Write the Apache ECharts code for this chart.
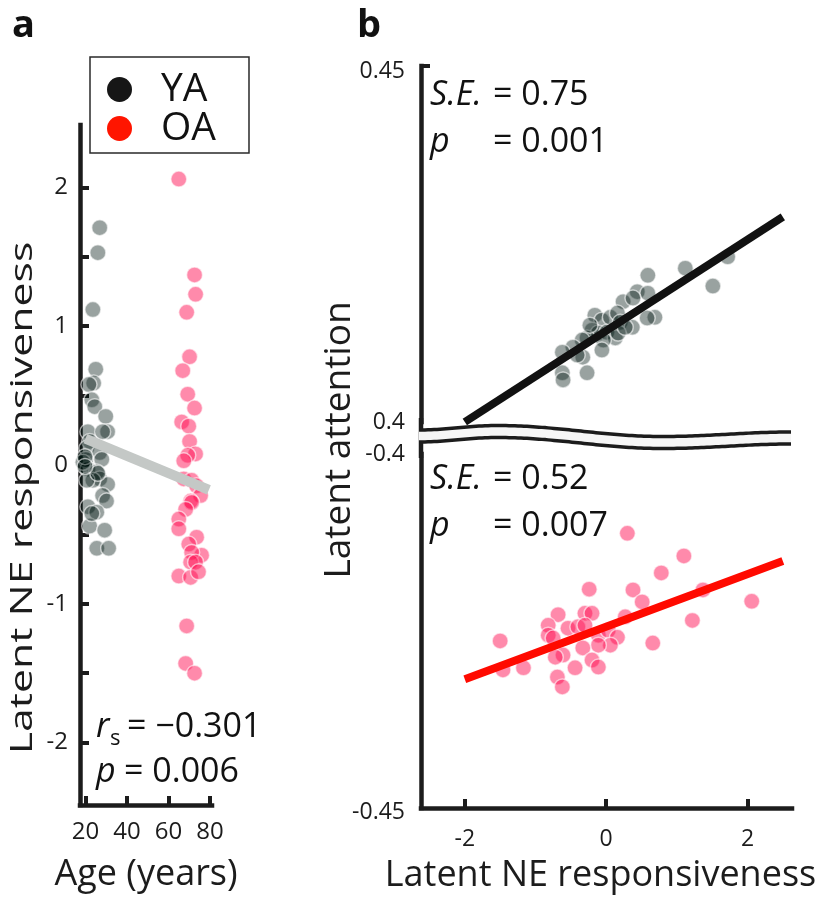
<!DOCTYPE html>
<html><head><meta charset="utf-8">
<script src="https://cdn.jsdelivr.net/npm/echarts@6/dist/echarts.min.js"></script>
<style>html,body{margin:0;padding:0;background:#fff}#c{width:829px;height:902px}</style>
</head><body><div id="c"></div>
<script>
// ---------- Panel a data : age vs latent NE responsiveness ----------
const yaAge = [26.9,26.0,23.6,25.0,24.0,21.7,23.1,24.5,29.8,21.2,30.7,28.3,22.1,20.7,26.9,20.2,27.9,21.2,18.8,25.5,26.9,30.7,23.6,20.7,28.3,30.2,21.2,25.5,22.1,29.3,25.5,31.2,23.1,26.0,19.8,19.8];
const yaNE  = [1.71,1.53,1.12,0.69,0.59,0.58,0.47,0.42,0.35,0.24,0.24,0.24,0.17,0.12,0.09,0.04,0.04,-0.03,0.02,-0.05,-0.10,-0.14,-0.11,-0.11,-0.22,-0.26,-0.30,-0.34,-0.44,-0.47,-0.60,-0.60,-0.35,-0.06,0.06,-0.01];
const oaAge = [65.0,72.6,73.1,68.8,70.2,66.9,69.3,72.6,66.4,69.8,70.2,73.1,69.3,67.4,67.4,71.2,73.6,75.5,70.7,71.2,68.3,65.0,65.0,73.6,69.8,76.0,71.2,70.7,73.1,65.0,70.7,74.5,68.8,68.3,72.6];
const oaNE  = [2.06,1.37,1.23,1.10,0.78,0.68,0.51,0.41,0.31,0.28,0.17,0.08,0.07,0.03,-0.10,-0.11,-0.15,-0.22,-0.26,-0.27,-0.32,-0.39,-0.46,-0.52,-0.57,-0.65,-0.63,-0.70,-0.70,-0.80,-0.81,-0.77,-1.16,-1.43,-1.50];
const fitAgeX = [20, 79.5];
const fitAgeY = [0.19, -0.18];

// ---------- Panel b data : latent NE responsiveness vs latent attention ----------
const yaNEb = [0.59,1.12,1.72,1.51,0.44,0.59,0.24,0.38,0.69,0.58,-0.16,-0.06,0.06,0.16,0.20,0.37,-0.20,-0.11,0.01,0.13,-0.04,-0.06,-0.27,-0.34,-0.47,-0.62,-0.33,-0.62,-0.61,-0.27,0.17,0.27,-0.23,-0.41];
const yaAtt = [0.4206,0.4216,0.4232,0.4191,0.4183,0.4181,0.4169,0.4174,0.4147,0.4146,0.4150,0.4143,0.4147,0.4153,0.4140,0.4133,0.4129,0.4125,0.4126,0.4118,0.4115,0.4101,0.4118,0.4115,0.4105,0.4098,0.4091,0.4069,0.4059,0.4069,0.4125,0.4133,0.4136,0.4094];
const oaNEb = [0.30,1.10,0.78,0.38,0.51,1.37,2.06,1.22,0.66,-0.24,-1.50,-1.46,-1.17,-0.68,-0.82,-0.82,-0.30,-0.20,-0.54,-0.40,-0.30,-0.11,0.03,0.16,0.06,-0.11,-0.33,0.27,-0.61,-0.72,-0.20,-0.11,-0.44,-0.69,-0.62,-0.75];
const oaAtt = [-0.4112,-0.4144,-0.4168,-0.4192,-0.4209,-0.4192,-0.4208,-0.4235,-0.4267,-0.4191,-0.4264,-0.4305,-0.4302,-0.4227,-0.4242,-0.4256,-0.4225,-0.4225,-0.4246,-0.4244,-0.4242,-0.4256,-0.4249,-0.4259,-0.4270,-0.4270,-0.4274,-0.4230,-0.4284,-0.4287,-0.4291,-0.4301,-0.4302,-0.4315,-0.4329,-0.4260];
const fitYAx = [-2, 2.5], fitYAy = [0.4, 0.4288];
const fitOAx = [-2, 2.5], fitOAy = [-0.4318, -0.4151];

// ---------- ticks / labels ----------
const ageTicks = [20, 40, 60, 80];
const neTicksA = [-2, -1.5, -1, -0.5, 0, 0.5, 1, 1.5, 2];
const neLabelsA = [-2, -1, 0, 1, 2];
const neTicksB = [-2, 0, 2];
const attTopLabels = [0.4, 0.45];
const attTopTicks = [0.45];
const attBotLabels = [-0.45, -0.4];

const FONT = "'Open Sans', 'Noto Sans', sans-serif";
const INK = '#1c1c1c';
const zip = (a, b) => a.map((v, i) => [v, b[i]]);

// layout
const GA = {left: 80, top: 125, width: 132, height: 680};
const GBT = {left: 421, top: 66, width: 371, height: 356};
const GBB = {left: 421, top: 454, width: 371, height: 354};

const YA_FILL = 'rgba(0,22,18,0.5)';
const OA_FILL = 'rgba(255,10,80,0.6)';
const EDGE = 'rgba(255,255,255,0.75)';

function axisCommon(extra) {
  return Object.assign({
    type: 'value',
    axisLine: {show: true, onZero: false, lineStyle: {color: INK, width: 4.5, cap: 'square'}},
    splitLine: {show: false},
    axisLabel: {color: INK, fontFamily: FONT}
  }, extra);
}

// wavy break band
const wave = [[419, 436], [497, 431.5], [663, 442.5], [792, 438]];
function waveY(x) {
  for (let i = 0; i < wave.length - 1; i++) {
    const [x0, y0] = wave[i], [x1, y1] = wave[i + 1];
    if (x >= x0 && x <= x1) {
      const t = (x - x0) / (x1 - x0);
      const mu = (1 - Math.cos(Math.PI * t)) / 2;
      return y0 + (y1 - y0) * mu;
    }
  }
  return wave[wave.length - 1][1];
}
const topPts = [], botPts = [];
for (let x = 419; x <= 792; x += 3) { const c = waveY(x); topPts.push([x, c - 6]); botPts.push([x, c + 6]); }
const bandPoly = topPts.concat(botPts.slice().reverse());

const scatterStyle = (fill) => ({color: fill, borderColor: EDGE, borderWidth: 1.5});

// labels at the extreme ends sit slightly below their tick in the reference
const endLabel = (ends) => (v) => (ends.indexOf(v) >= 0 ? '{lo|' + v + '}' : String(v));

const option = {
  backgroundColor: '#fff',
  animation: false,
  textStyle: {fontFamily: FONT},
  grid: [GA, GBT, GBB],
  legend: {
    left: 90, top: 57, orient: 'vertical',
    padding: [13, 33, 5, 17],
    itemWidth: 25, itemHeight: 25, itemGap: 0,
    icon: 'circle',
    borderColor: '#2a2a2a', borderWidth: 1.5,
    selectedMode: false,
    textStyle: {fontSize: 39, lineHeight: 36, color: '#111', fontFamily: FONT, padding: [0, 0, 0, 24]},
    data: [
      {name: 'YA', itemStyle: {color: '#161616', borderWidth: 0, opacity: 1}},
      {name: 'OA', itemStyle: {color: '#ff1500', borderWidth: 0, opacity: 1}}
    ]
  },
  xAxis: [
    axisCommon({gridIndex: 0, min: 17.4, max: 81,
      axisTick: {inside: true, length: 9, lineStyle: {color: INK, width: 4}, customValues: ageTicks},
      axisLabel: {color: INK, fontFamily: FONT, fontSize: 24, margin: 15, customValues: ageTicks},
      name: 'Age (years)', nameLocation: 'middle', nameGap: 52,
      nameTextStyle: {fontSize: 36, color: INK, fontFamily: FONT}}),
    axisCommon({gridIndex: 1, min: -2.62, max: 2.63, show: false}),
    axisCommon({gridIndex: 2, min: -2.62, max: 2.63,
      axisTick: {inside: true, length: 9, lineStyle: {color: INK, width: 4}, customValues: neTicksB},
      axisLabel: {color: INK, fontFamily: FONT, fontSize: 23, margin: 20, customValues: neTicksB},
      name: 'Latent NE responsiveness', nameLocation: 'middle', nameGap: 50,
      nameTextStyle: {fontSize: 36, color: INK, fontFamily: FONT, padding: [0, 12, 0, 0]}})
  ],
  yAxis: [
    axisCommon({gridIndex: 0, min: -2.45, max: 2.45,
      axisTick: {inside: true, length: 9, lineStyle: {color: INK, width: 4}, customValues: neTicksA},
      axisLabel: {color: INK, fontFamily: FONT, fontSize: 24, margin: 12, customValues: neLabelsA}}),
    axisCommon({gridIndex: 1, min: 0.4, max: 0.45,
      axisTick: {inside: true, length: 9, lineStyle: {color: INK, width: 4}, customValues: attTopTicks},
      axisLabel: {color: INK, fontFamily: FONT, fontSize: 23, margin: 16, customValues: attTopLabels,
        formatter: endLabel([0.45]), rich: {lo: {fontSize: 23, fontFamily: FONT, color: INK, padding: [11, 0, 0, 0]}}}}),
    axisCommon({gridIndex: 2, min: -0.45, max: -0.4,
      axisTick: {show: false},
      axisLabel: {color: INK, fontFamily: FONT, fontSize: 23, margin: 16, customValues: attBotLabels,
        formatter: endLabel([-0.45]), rich: {lo: {fontSize: 23, fontFamily: FONT, color: INK, padding: [8, 0, 0, 0]}}}})
  ],
  series: [
    {name: 'YA', type: 'scatter', xAxisIndex: 0, yAxisIndex: 0, data: zip(yaAge, yaNE),
      symbolSize: 16, itemStyle: scatterStyle(YA_FILL), z: 2, emphasis: {disabled: true}},
    {name: 'OA', type: 'scatter', xAxisIndex: 0, yAxisIndex: 0, data: zip(oaAge, oaNE),
      symbolSize: 16, itemStyle: scatterStyle(OA_FILL), z: 2, emphasis: {disabled: true}},
    {name: 'Age fit', type: 'line', xAxisIndex: 0, yAxisIndex: 0, data: zip(fitAgeX, fitAgeY),
      symbol: 'none', lineStyle: {color: '#c4c8c6', width: 10}, z: 5, silent: true},
    {name: 'YA', type: 'scatter', xAxisIndex: 1, yAxisIndex: 1, data: zip(yaNEb, yaAtt),
      symbolSize: 16, itemStyle: scatterStyle(YA_FILL), z: 2, emphasis: {disabled: true}},
    {name: 'YA fit', type: 'line', xAxisIndex: 1, yAxisIndex: 1, data: zip(fitYAx, fitYAy), clip: false,
      symbol: 'none', lineStyle: {color: '#111', width: 8}, z: 5, silent: true},
    {name: 'OA', type: 'scatter', xAxisIndex: 2, yAxisIndex: 2, data: zip(oaNEb, oaAtt),
      symbolSize: 16, itemStyle: scatterStyle(OA_FILL), z: 2, emphasis: {disabled: true}},
    {name: 'OA fit', type: 'line', xAxisIndex: 2, yAxisIndex: 2, data: zip(fitOAx, fitOAy), clip: false,
      symbol: 'none', lineStyle: {color: '#ff0a00', width: 8}, z: 5, silent: true}
  ],
  graphic: [
    // y axis continuation through the break
    {type: 'line', z: 50, shape: {x1: GBT.left, y1: 418, x2: GBT.left, y2: 458}, style: {stroke: INK, lineWidth: 4.5}},
    {type: 'polygon', z: 100, shape: {points: bandPoly}, style: {fill: '#f6f6f6'}},
    {type: 'polyline', z: 101, shape: {points: topPts}, style: {stroke: INK, lineWidth: 3.5, fill: null}},
    {type: 'polyline', z: 101, shape: {points: botPts}, style: {stroke: INK, lineWidth: 3.5, fill: null}},
    // panel letters
    {type: 'text', z: 110, x: 12, y: 26, style: {text: 'a', font: 'bold 38px ' + FONT, fill: '#111', verticalAlign: 'middle'}},
    {type: 'text', z: 110, x: 357, y: 26, style: {text: 'b', font: 'bold 38px ' + FONT, fill: '#111', verticalAlign: 'middle'}},
    // y titles
    {type: 'text', z: 110, x: 23, y: 498, rotation: Math.PI / 2, scaleX: 1.38,
      style: {text: 'Latent NE responsiveness', font: '31px ' + FONT, fill: INK, align: 'center', verticalAlign: 'middle'}},
    {type: 'text', z: 110, x: 339, y: 440, rotation: Math.PI / 2,
      style: {text: 'Latent attention', font: '37px ' + FONT, fill: INK, align: 'center', verticalAlign: 'middle'}},
    // panel a stats
    {type: 'text', z: 110, x: 96, y: 727, style: {text: 'r', font: 'italic 34px ' + FONT, fill: '#111', verticalAlign: 'middle'}},
    {type: 'text', z: 110, x: 110, y: 739, style: {text: 's', font: '22px ' + FONT, fill: '#111', verticalAlign: 'middle'}},
    {type: 'text', z: 110, x: 127, y: 727, style: {text: '= \u22120.301', font: '34px ' + FONT, fill: '#111', verticalAlign: 'middle'}},
    {type: 'text', z: 110, x: 96, y: 772, style: {text: 'p', font: 'italic 34px ' + FONT, fill: '#111', verticalAlign: 'middle'}},
    {type: 'text', z: 110, x: 124, y: 772, style: {text: '= 0.006', font: '34px ' + FONT, fill: '#111', verticalAlign: 'middle'}},
    // panel b stats (top)
    {type: 'text', z: 110, x: 430, y: 95, style: {text: 'S.E.', font: 'italic 34px ' + FONT, fill: '#111', verticalAlign: 'middle'}},
    {type: 'text', z: 110, x: 493, y: 95, style: {text: '= 0.75', font: '34px ' + FONT, fill: '#111', verticalAlign: 'middle'}},
    {type: 'text', z: 110, x: 430, y: 142, style: {text: 'p', font: 'italic 34px ' + FONT, fill: '#111', verticalAlign: 'middle'}},
    {type: 'text', z: 110, x: 493, y: 142, style: {text: '= 0.001', font: '34px ' + FONT, fill: '#111', verticalAlign: 'middle'}},
    // panel b stats (bottom)
    {type: 'text', z: 110, x: 430, y: 479, style: {text: 'S.E.', font: 'italic 34px ' + FONT, fill: '#111', verticalAlign: 'middle'}},
    {type: 'text', z: 110, x: 493, y: 479, style: {text: '= 0.52', font: '34px ' + FONT, fill: '#111', verticalAlign: 'middle'}},
    {type: 'text', z: 110, x: 430, y: 526, style: {text: 'p', font: 'italic 34px ' + FONT, fill: '#111', verticalAlign: 'middle'}},
    {type: 'text', z: 110, x: 493, y: 526, style: {text: '= 0.007', font: '34px ' + FONT, fill: '#111', verticalAlign: 'middle'}}
  ]
};

const chart = echarts.init(document.getElementById('c'), null, {renderer: 'canvas'});
chart.setOption(option);
</script>
</body></html>
